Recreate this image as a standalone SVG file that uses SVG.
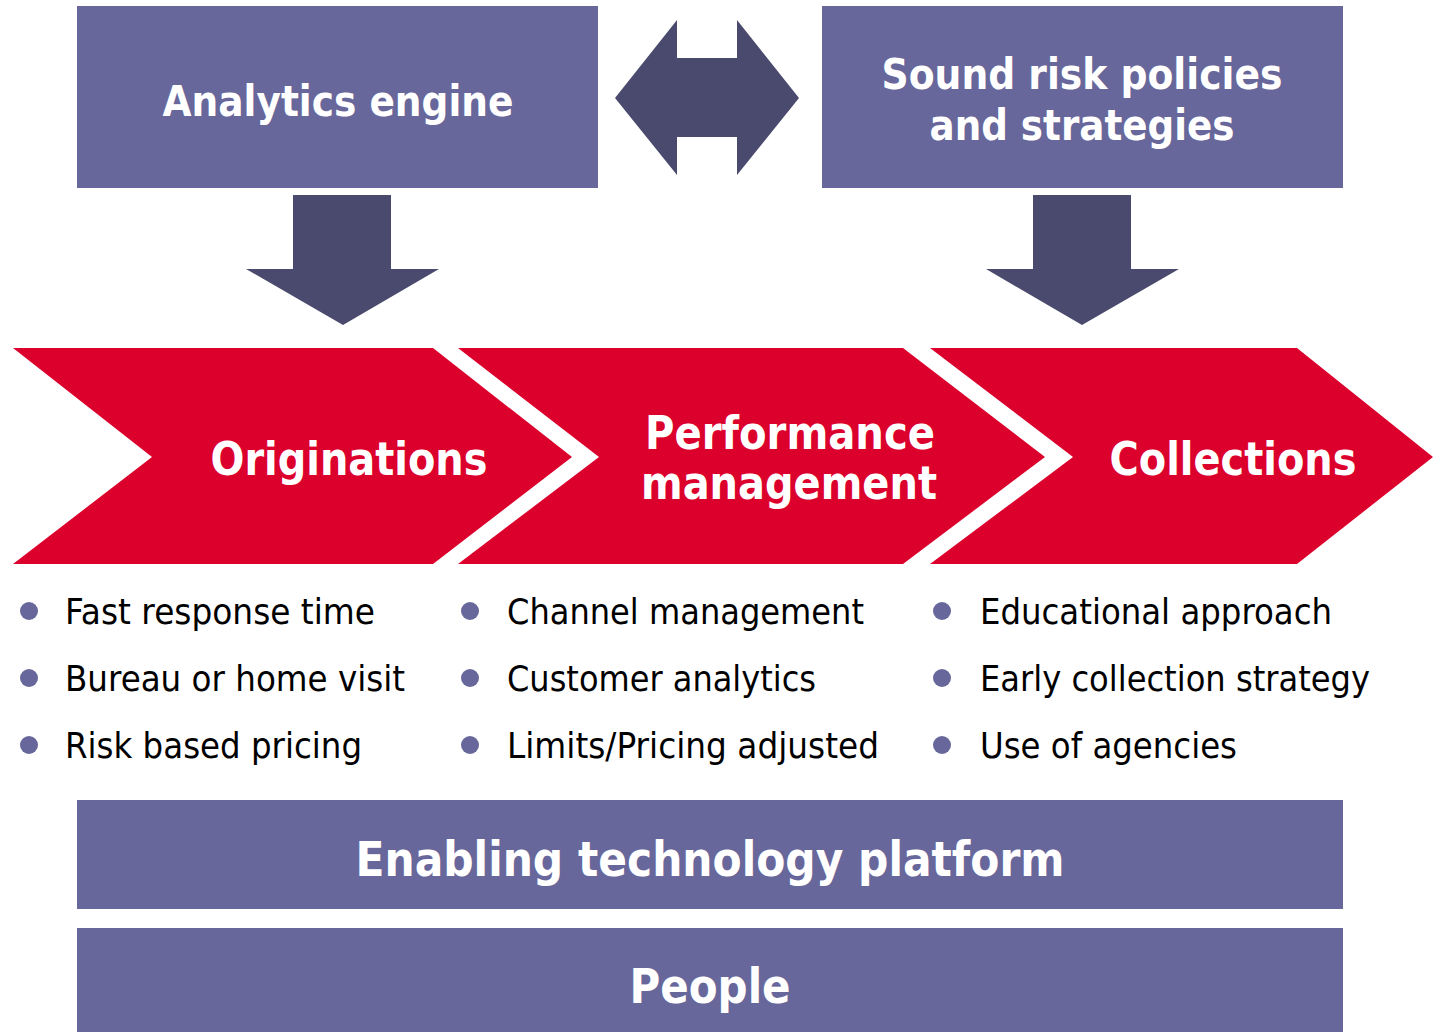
<svg xmlns="http://www.w3.org/2000/svg" width="1433" height="1032" viewBox="0 0 1433 1032">
<style>
.box{fill:#67679B}
.arr{fill:#4A4A6E}
.chev{fill:#DC002D}
.hd{font-family:"DejaVu Sans","Liberation Sans",sans-serif;font-weight:bold;fill:#fff;text-anchor:middle}
.bt{font-family:"DejaVu Sans","Liberation Sans",sans-serif;font-size:35px;fill:#000}
.dot{fill:#67679B}
</style>
<rect width="1433" height="1032" fill="#fff"/>
<g id="analytics">
<rect class="box" x="77" y="6" width="521" height="182"/>
<text class="hd" x="338" y="116" font-size="43" textLength="351" lengthAdjust="spacingAndGlyphs">Analytics engine</text>
</g>
<g id="policies">
<rect class="box" x="822" y="6" width="521" height="182"/>
<text class="hd" x="1082" y="89" font-size="43" textLength="401" lengthAdjust="spacingAndGlyphs">Sound risk policies</text>
<text class="hd" x="1082" y="140" font-size="43" textLength="305" lengthAdjust="spacingAndGlyphs">and strategies</text>
</g>
<g id="connectors">
<polygon class="arr" points="615,98 677,20 677,58 737,58 737,20 799,98 737,175 737,137 677,137 677,175"/>
<polygon class="arr" points="293,195 391,195 391,269 439,269 343,325 246,269 293,269"/>
<polygon class="arr" points="1033,195 1131,195 1131,269 1179,269 1082,325 986,269 1033,269"/>
</g>
<g id="originations">
<polygon class="chev" points="13,348 433,348 572,457 433,564 13,564 152,457"/>
<text class="hd" x="349" y="475" font-size="46" textLength="277" lengthAdjust="spacingAndGlyphs">Originations</text>
</g>
<g id="performance">
<polygon class="chev" points="458,348 903,348 1045,457 903,564 458,564 599,457"/>
<text class="hd" x="790" y="449" font-size="46" textLength="290" lengthAdjust="spacingAndGlyphs">Performance</text>
<text class="hd" x="789" y="499" font-size="46" textLength="296" lengthAdjust="spacingAndGlyphs">management</text>
</g>
<g id="collections">
<polygon class="chev" points="930,348 1297,348 1433,457 1297,564 930,564 1073,457"/>
<text class="hd" x="1233" y="475" font-size="46" textLength="247" lengthAdjust="spacingAndGlyphs">Collections</text>
</g>
<g id="bullets-originations">
<circle class="dot" cx="29" cy="611" r="9"/>
<circle class="dot" cx="29" cy="678" r="9"/>
<circle class="dot" cx="29" cy="745" r="9"/>
<text class="bt" x="65" y="624" textLength="310" lengthAdjust="spacingAndGlyphs">Fast response time</text>
<text class="bt" x="65" y="691" textLength="340" lengthAdjust="spacingAndGlyphs">Bureau or home visit</text>
<text class="bt" x="65" y="758" textLength="297" lengthAdjust="spacingAndGlyphs">Risk based pricing</text>
</g>
<g id="bullets-performance">
<circle class="dot" cx="470" cy="611" r="9"/>
<circle class="dot" cx="470" cy="678" r="9"/>
<circle class="dot" cx="470" cy="745" r="9"/>
<text class="bt" x="507" y="624" textLength="357" lengthAdjust="spacingAndGlyphs">Channel management</text>
<text class="bt" x="507" y="691" textLength="309" lengthAdjust="spacingAndGlyphs">Customer analytics</text>
<text class="bt" x="507" y="758" textLength="372" lengthAdjust="spacingAndGlyphs">Limits/Pricing adjusted</text>
</g>
<g id="bullets-collections">
<circle class="dot" cx="942" cy="611" r="9"/>
<circle class="dot" cx="942" cy="678" r="9"/>
<circle class="dot" cx="942" cy="745" r="9"/>
<text class="bt" x="980" y="624" textLength="352" lengthAdjust="spacingAndGlyphs">Educational approach</text>
<text class="bt" x="980" y="691" textLength="390" lengthAdjust="spacingAndGlyphs">Early collection strategy</text>
<text class="bt" x="980" y="758" textLength="257" lengthAdjust="spacingAndGlyphs">Use of agencies</text>
</g>
<g id="platform">
<rect class="box" x="77" y="800" width="1266" height="109"/>
<text class="hd" x="710" y="876" font-size="48" textLength="709" lengthAdjust="spacingAndGlyphs">Enabling technology platform</text>
</g>
<g id="people">
<rect class="box" x="77" y="928" width="1266" height="104"/>
<text class="hd" x="710" y="1003" font-size="48" textLength="161" lengthAdjust="spacingAndGlyphs">People</text>
</g>
</svg>
